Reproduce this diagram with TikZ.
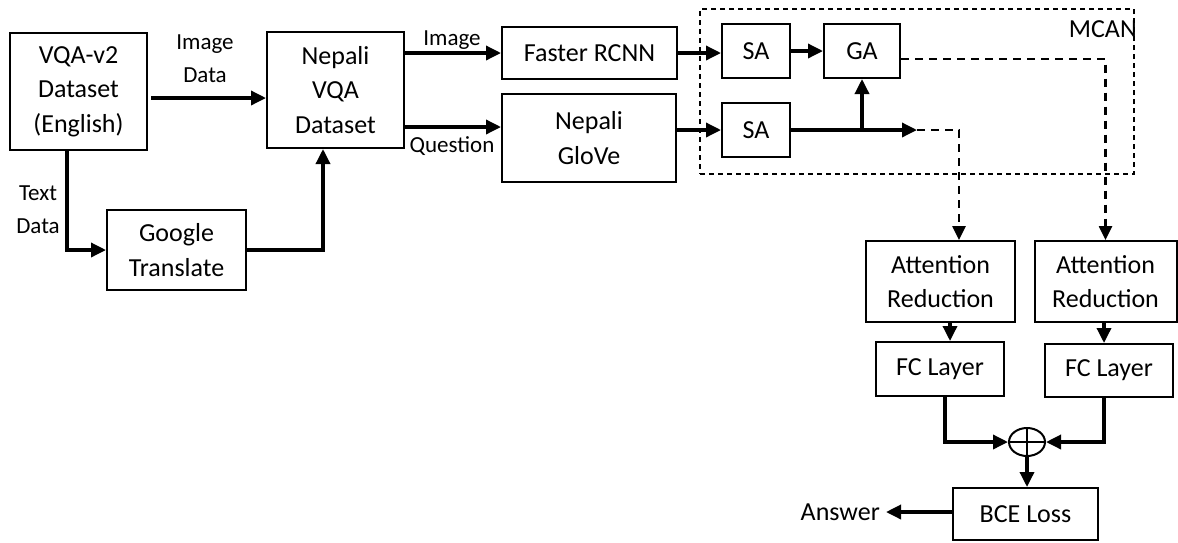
\documentclass[tikz,border=0pt]{standalone}
\usepackage{fontspec}
\setmainfont{Carlito}
\usetikzlibrary{arrows.meta,shapes.geometric}
\begin{document}
\begin{tikzpicture}[x=1pt,y=-1pt,
 box/.style={draw, line width=2pt, align=center, font=\fontsize{26}{34.5}\selectfont, inner sep=0pt},
 lbl/.style={align=center, font=\fontsize{23}{33}\selectfont, inner sep=0pt},
 arr/.style={line width=3.4pt, -{Triangle[length=15pt,width=14pt]}},
 darr/.style={line width=2.6pt, dash pattern=on 8pt off 6pt, -{Triangle[length=14pt,width=13pt]}},
]
\useasboundingbox (0,0) rectangle (1178,542);
% MCAN group
\node[draw, line width=1.2pt, dash pattern=on 5pt off 4pt, minimum width=434pt, minimum height=165pt, inner sep=0pt] (mcan) at (917,91.5) {};
\node[anchor=east, font=\fontsize{26}{30}\selectfont, inner sep=0pt] (mcanl) at (1137,29) {MCAN};

\node[box, minimum width=137pt, minimum height=117pt] (vqa) at (78.5,91.5) {VQA-v2\\Dataset\\(English)};
\node[box, minimum width=137pt, minimum height=116pt] (nvqa) at (335.5,90) {Nepali\\VQA\\Dataset};
\node[box, minimum width=139pt, minimum height=80pt] (gt) at (176.5,250) {Google\\Translate};
\node[box, minimum width=175pt, minimum height=52pt] (frcnn) at (589.5,53) {Faster RCNN};
\node[box, minimum width=174pt, minimum height=88pt] (glove) at (589,138) {Nepali\\GloVe};
\node[box, minimum width=68pt, minimum height=54pt] (sa1) at (756,51) {SA};
\node[box, minimum width=76pt, minimum height=54pt] (ga) at (862,51) {GA};
\node[box, minimum width=68pt, minimum height=54pt] (sa2) at (756,130) {SA};
\node[box, minimum width=149pt, minimum height=81pt] (ar1) at (940.5,281.5) {Attention\\Reduction};
\node[box, minimum width=142pt, minimum height=81pt] (ar2) at (1105.5,281.5) {Attention\\Reduction};
\node[box, minimum width=128pt, minimum height=54pt] (fc1) at (940,369) {FC Layer};
\node[box, minimum width=128pt, minimum height=53pt] (fc2) at (1109,370.5) {FC Layer};
\node[draw, ellipse, line width=2pt, minimum width=36pt, minimum height=28pt, inner sep=0pt] (plus) at (1027,442) {};
\draw[line width=2pt] (plus.north) -- (plus.south) (plus.west) -- (plus.east);
\node[box, minimum width=145pt, minimum height=52pt] (bce) at (1025.5,514) {BCE Loss};
\node[lbl, anchor=east, font=\fontsize{26}{30}\selectfont, inner xsep=6pt] (ans) at (886,512) {Answer};

% labels
\node[lbl] (limg) at (205,59) {Image\\Data};
\node[lbl] (ltxt) at (38,210) {Text\\Data};
\node[lbl] (limg2) at (452,40) {Image};
\node[lbl] (lq) at (452,146) {Question};

% connectors
\draw[arr] ([xshift=3pt,yshift=-6.5pt]vqa.east) -- ([yshift=-8pt]nvqa.west);
\draw[arr] ([xshift=-11.5pt]vqa.south) |- (gt.west);
\draw[arr] (gt.east) -| ([xshift=-12.5pt]nvqa.south);
\draw[arr] (nvqa.east |- frcnn.west) -- (frcnn.west);
\coordinate (qin) at ([yshift=11pt]glove.west);
\draw[arr] (nvqa.east |- qin) -- (qin);
\draw[arr] (frcnn.east) -- (sa1.west |- frcnn.east);
\draw[arr] (glove.east |- sa2.west) -- (sa2.west);
\draw[arr] (sa1.east) -- (ga.west);
\coordinate (qout) at (917,130);
\draw[arr] (sa2.east) -- (qout);
\draw[arr] (ga.south |- sa2.east) -- (ga.south);
\draw[darr] (qout) -| ([xshift=18.5pt]ar1.north);
\draw[darr] ([yshift=-8pt]ga.east) -| (ar2.north);
\draw[arr] ([xshift=9.5pt]ar1.south) -- ([xshift=9.5pt]ar1.south |- fc1.north);
\draw[arr] ([xshift=-1.5pt]ar2.south) -- ([xshift=-1.5pt]ar2.south |- fc2.north);
\draw[arr] ([xshift=5pt]fc1.south) |- (plus.west);
\draw[arr] ([xshift=-5pt]fc2.south) |- (plus.east);
\draw[arr] (plus.south) -- (plus.south |- bce.north);
\draw[arr] (bce.west |- ans.east) -- (ans.east);
\end{tikzpicture}
\end{document}
